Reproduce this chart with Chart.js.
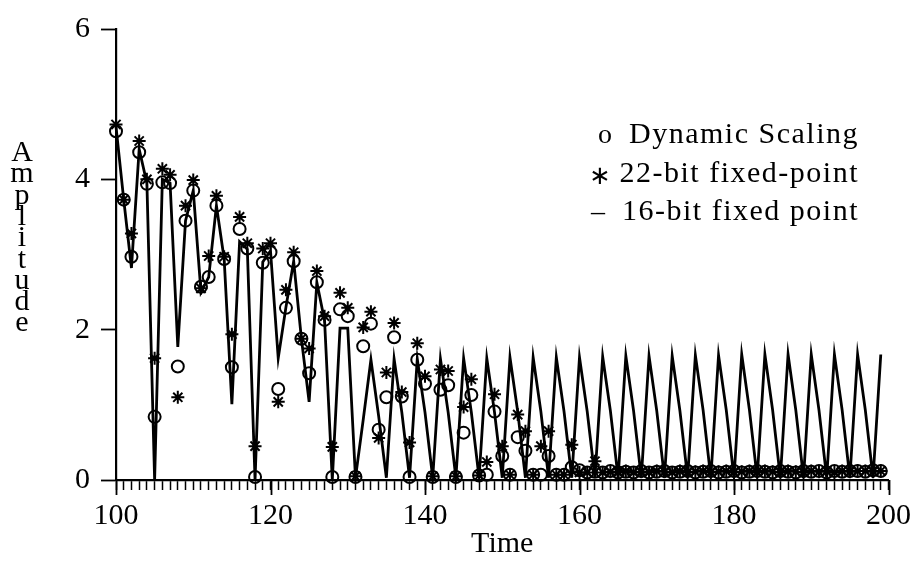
<!DOCTYPE html>
<html>
<head>
<meta charset="utf-8">
<title>Amplitude</title>
<script src="https://cdn.jsdelivr.net/npm/chart.js@4.4.1/dist/chart.umd.min.js"></script>
<style>
    html, body { margin: 0; padding: 0; background: #fff; }
    #wrap { width: 919px; height: 586px; }
</style>
</head>
<body>
<div id="wrap"><canvas id="ampChart" width="919" height="586"></canvas></div>
<script>
"use strict"

// tidpunkter (en punkt per tidssteg)
const times = [
    100, 101, 102, 103, 104, 105, 106, 107, 108, 109,
    110, 111, 112, 113, 114, 115, 116, 117, 118, 119,
    120, 121, 122, 123, 124, 125, 126, 127, 128, 129,
    130, 131, 132, 133, 134, 135, 136, 137, 138, 139,
    140, 141, 142, 143, 144, 145, 146, 147, 148, 149,
    150, 151, 152, 153, 154, 155, 156, 157, 158, 159,
    160, 161, 162, 163, 164, 165, 166, 167, 168, 169,
    170, 171, 172, 173, 174, 175, 176, 177, 178, 179,
    180, 181, 182, 183, 184, 185, 186, 187, 188, 189,
    190, 191, 192, 193, 194, 195, 196, 197, 198, 199
];

// o Dynamic Scaling
const dynamicScaling = [
    4.64, 3.73, 2.97, 4.36, 3.94, 0.84, 3.96, 3.95, 1.51, 3.45,
    3.85, 2.57, 2.70, 3.65, 2.94, 1.50, 3.34, 3.08, 0.04, 2.89,
    3.03, 1.21, 2.29, 2.91, 1.88, 1.42, 2.63, 2.13, 0.04, 2.27,
    2.18, 0.04, 1.78, 2.08, 0.67, 1.10, 1.90, 1.11, 0.04, 1.60,
    1.28, 0.04, 1.20, 1.26, 0.04, 0.63, 1.13, 0.06, 0.07, 0.91,
    0.32, 0.07, 0.57, 0.39, 0.07, 0.07, 0.32, 0.07, 0.07, 0.17,
    0.13, 0.10, 0.11, 0.10, 0.12, 0.10, 0.11, 0.10, 0.12, 0.10,
    0.11, 0.12, 0.10, 0.11, 0.12, 0.10, 0.11, 0.12, 0.10, 0.11,
    0.12, 0.10, 0.11, 0.12, 0.11, 0.10, 0.12, 0.11, 0.10, 0.12,
    0.11, 0.12, 0.10, 0.12, 0.11, 0.12, 0.12, 0.11, 0.13, 0.12
];

// * 22-bit fixed-point
const fixed22 = [
    4.73, 3.73, 3.28, 4.51, 4.00, 1.62, 4.14, 4.06, 1.10, 3.65,
    3.99, 2.55, 2.98, 3.78, 2.97, 1.94, 3.50, 3.15, 0.45, 3.08,
    3.15, 1.04, 2.53, 3.03, 1.88, 1.75, 2.78, 2.18, 0.44, 2.49,
    2.29, 0.05, 2.03, 2.24, 0.56, 1.43, 2.09, 1.17, 0.50, 1.82,
    1.38, 0.05, 1.47, 1.45, 0.05, 0.97, 1.34, 0.06, 0.24, 1.14,
    0.45, 0.07, 0.87, 0.65, 0.07, 0.45, 0.65, 0.07, 0.07, 0.47,
    0.10, 0.10, 0.25, 0.10, 0.11, 0.10, 0.12, 0.10, 0.11, 0.10,
    0.12, 0.11, 0.10, 0.12, 0.10, 0.11, 0.12, 0.10, 0.11, 0.12,
    0.10, 0.11, 0.12, 0.10, 0.12, 0.11, 0.10, 0.12, 0.11, 0.10,
    0.12, 0.11, 0.12, 0.10, 0.12, 0.11, 0.12, 0.12, 0.11, 0.12
];

// - 16-bit fixed point
const fixed16 = [
    4.70, 3.73, 2.82, 4.40, 3.95, 0.00, 4.00, 3.95, 1.77, 3.45,
    3.85, 2.50, 2.70, 3.65, 2.94, 1.01, 3.17, 3.07, 0.00, 2.90,
    3.05, 1.62, 2.30, 2.91, 1.88, 1.04, 2.63, 2.12, 0.00, 2.02,
    2.02, 0.03, 0.80, 1.60, 0.85, 0.03, 1.61, 0.90, 0.03, 1.61,
    0.90, 0.03, 1.61, 0.90, 0.03, 1.62, 0.90, 0.03, 1.62, 0.90,
    0.03, 1.63, 0.91, 0.03, 1.63, 0.91, 0.03, 1.63, 0.91, 0.03,
    1.63, 0.91, 0.03, 1.64, 0.92, 0.03, 1.65, 0.92, 0.03, 1.65,
    0.92, 0.03, 1.65, 0.92, 0.03, 1.66, 0.93, 0.03, 1.66, 0.93,
    0.03, 1.67, 0.93, 0.03, 1.67, 0.93, 0.03, 1.67, 0.93, 0.03,
    1.67, 0.93, 0.03, 1.67, 0.93, 0.03, 1.67, 0.93, 0.03, 1.67
];

const legendLabels = ["Dynamic Scaling", "22-bit fixed-point", "16-bit fixed point"];
const legendSymbols = ["o", "\u2217", "\u2013"];
const yTitle = "Amplitude";
const xTitle = "Time";

const serif = "'Liberation Serif', 'Times New Roman', serif";

// gör om en serie till {x, y}-punkter
function toPoints(values) {
    return times.map((t, i) => ({ x: t, y: values[i] }));
}

// stora streck under x-axeln samt stående y-titel och legend
const extras = {
    id: "extras",
    afterDraw(chart) {
        const ctx = chart.ctx;
        const xs = chart.scales.x;
        const bottom = chart.chartArea.bottom;
        ctx.save();
        ctx.strokeStyle = "#000";
        ctx.lineWidth = 1.8;
        for (let v = 100; v <= 200; v += 20) {
            const px = Math.round(xs.getPixelForValue(v)) + 0.5;
            ctx.beginPath();
            ctx.moveTo(px, bottom);
            ctx.lineTo(px, bottom + 15);
            ctx.stroke();
        }

        // Amplitude, en bokstav per rad
        ctx.fillStyle = "#000";
        ctx.font = "30px " + serif;
        ctx.textAlign = "center";
        ctx.textBaseline = "alphabetic";
        for (let i = 0; i < yTitle.length; i++) {
            ctx.fillText(yTitle[i], 22, 161 + i * 21.3);
        }

        // legend
        const baselines = [143, 182, 220];
        const symbolX = [605, 600, 598];
        for (let i = 0; i < legendLabels.length; i++) {
            ctx.font = "30px " + serif;
            ctx.textAlign = "right";
            ctx.letterSpacing = "1.5px";
            ctx.fillText(legendLabels[i], 859, baselines[i]);
            ctx.letterSpacing = "0px";
            ctx.textAlign = "center";
            ctx.font = (i === 1 ? "26px " : "28px ") + serif;
            ctx.fillText(legendSymbols[i], symbolX[i], baselines[i] + (i === 1 ? 2 : 0));
        }
        ctx.restore();
    }
};

new Chart(document.getElementById("ampChart"), {
    type: "line",
    data: {
        datasets: [
            {
                label: legendLabels[0],
                data: toPoints(dynamicScaling),
                showLine: false,
                pointStyle: "circle",
                pointRadius: 6,
                pointBorderWidth: 2,
                pointBorderColor: "#000",
                pointBackgroundColor: "rgba(0,0,0,0)",
                clip: false,
                order: 1
            },
            {
                label: legendLabels[1],
                data: toPoints(fixed22),
                showLine: false,
                pointStyle: "star",
                pointRadius: 6.5,
                pointBorderWidth: 2,
                pointBorderColor: "#000",
                pointBackgroundColor: "#000",
                clip: false,
                order: 2
            },
            {
                label: legendLabels[2],
                data: toPoints(fixed16),
                borderColor: "#000",
                borderWidth: 2.8,
                pointRadius: 0,
                tension: 0,
                fill: false,
                clip: false,
                order: 3
            }
        ]
    },
    options: {
        responsive: false,
        animation: false,
        devicePixelRatio: 1,
        layout: { padding: { left: 0, right: 28, top: 18, bottom: 0 } },
        plugins: {
            legend: { display: false },
            tooltip: { enabled: false }
        },
        scales: {
            x: {
                type: "linear",
                min: 100,
                max: 200,
                afterFit: (scale) => { scale.height = 106; },
                ticks: {
                    stepSize: 1,
                    autoSkip: false,
                    maxRotation: 0,
                    padding: 8,
                    color: "#000",
                    font: { family: serif, size: 30 },
                    callback: (v) => (v % 20 === 0 ? String(v) : "")
                },
                grid: { drawOnChartArea: false, tickLength: 10, tickColor: "#000", tickWidth: 1.5 },
                border: { color: "#000", width: 2.2 },
                title: {
                    display: true,
                    text: xTitle,
                    color: "#000",
                    font: { family: serif, size: 30 },
                    padding: { top: 0, bottom: 24 }
                }
            },
            y: {
                min: 0,
                max: 6,
                afterFit: (scale) => { scale.width = 116; },
                ticks: {
                    stepSize: 2,
                    padding: 11,
                    color: "#000",
                    font: { family: serif, size: 30 }
                },
                grid: { drawOnChartArea: false, tickLength: 15, tickColor: "#000", tickWidth: 1.8 },
                border: { color: "#000", width: 2.2 }
            }
        }
    },
    plugins: [extras]
});
</script>
</body>
</html>
